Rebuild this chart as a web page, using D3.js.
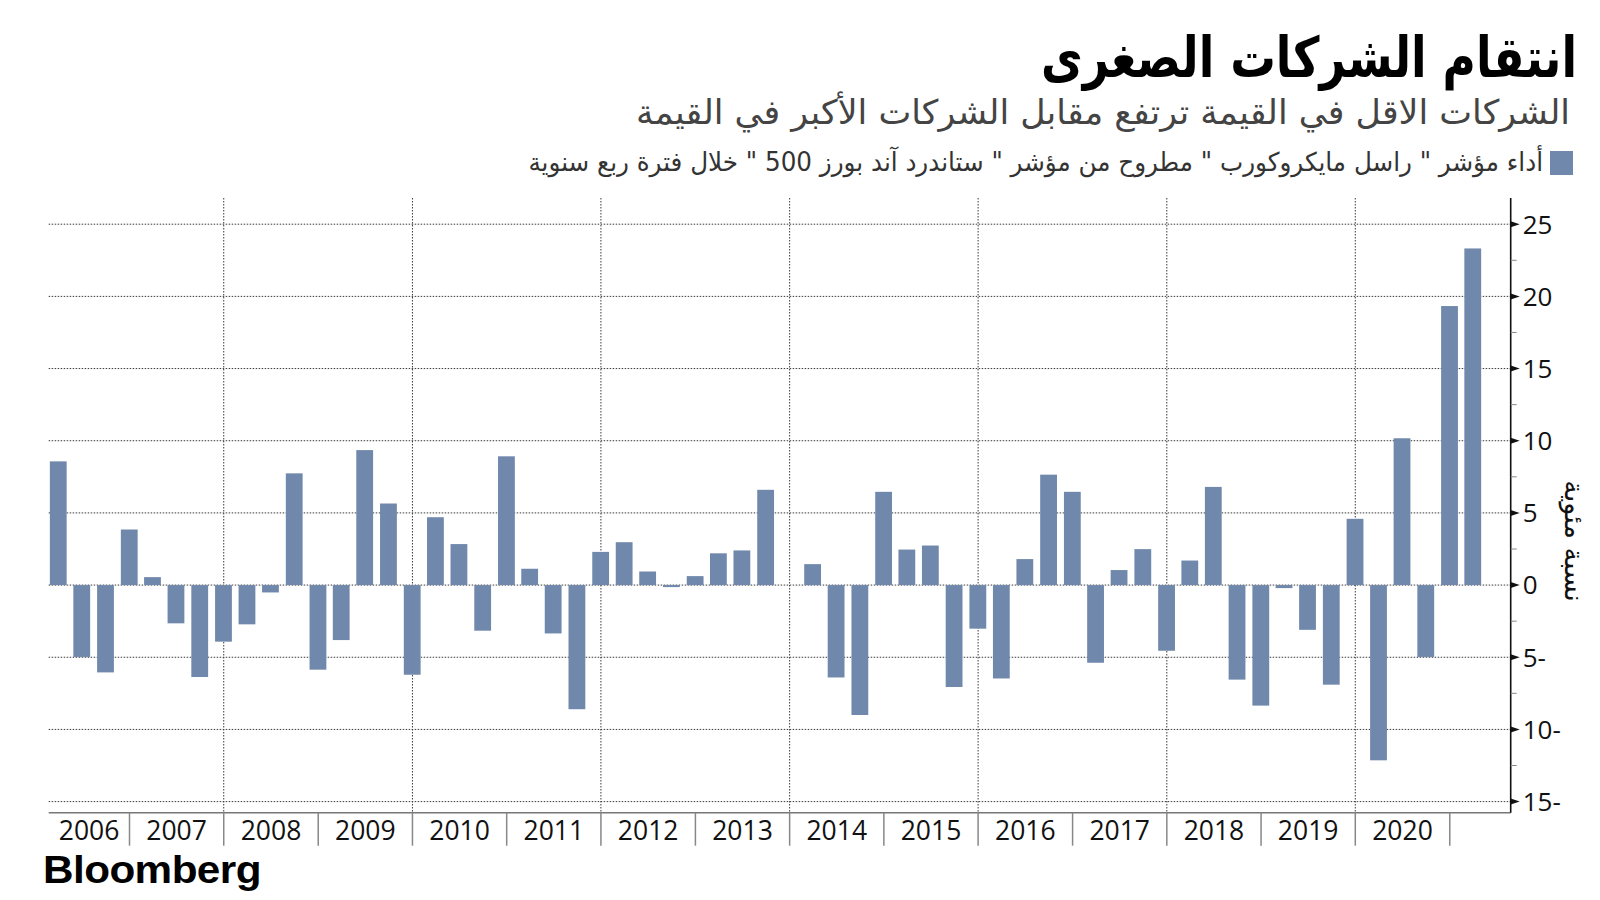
<!DOCTYPE html>
<html>
<head>
<meta charset="utf-8">
<script src="https://cdn.jsdelivr.net/npm/d3@7"></script>
<style>
  html, body { margin: 0; padding: 0; background: #ffffff; }
  svg { display: block; }
</style>
</head>
<body>
<svg id="chart" width="1600" height="900"></svg>
<script>
// ---------------- DATA ----------------
const years = [2006, 2007, 2008, 2009, 2010, 2011, 2012, 2013, 2014, 2015, 2016, 2017, 2018, 2019, 2020, 2021];
const quarterEnds = ["03-31", "06-30", "09-30", "12-31"];
// Russell Microcap minus S&P 500, quarterly performance (percentage points)
const values2006 = [8.57, -4.98, -6.05, 3.85];
const values2007 = [0.55, -2.65, -6.37, -3.92];
const values2008 = [-2.72, -0.51, 7.74, -5.86];
const values2009 = [-3.81, 9.35, 5.65, -6.21];
const values2010 = [4.70, 2.84, -3.16, 8.92];
const values2011 = [1.13, -3.35, -8.60, 2.30];
const values2012 = [2.97, 0.94, -0.14, 0.62];
const values2013 = [2.20, 2.40, 6.60, 0.00];
const values2014 = [1.45, -6.40, -9.00, 6.46];
const values2015 = [2.46, 2.74, -7.06, -3.02];
const values2016 = [-6.47, 1.80, 7.65, 6.46];
const values2017 = [-5.38, 1.04, 2.49, -4.55];
const values2018 = [1.70, 6.80, -6.55, -8.35];
const values2019 = [-0.21, -3.10, -6.90, 4.59];
const values2020 = [-12.14, 10.17, -4.98, 19.33];
const values2021 = [23.32];
const seriesByYear = [values2006, values2007, values2008, values2009, values2010, values2011, values2012,
  values2013, values2014, values2015, values2016, values2017, values2018, values2019, values2020, values2021];

const yTicks = [25, 20, 15, 10, 5, 0, -5, -10, -15];
const yMinorTicks = [22.5, 17.5, 12.5, 7.5, 2.5, -2.5, -7.5, -12.5];
const yearLabels = ["2006", "2007", "2008", "2009", "2010", "2011", "2012", "2013", "2014", "2015", "2016", "2017", "2018", "2019", "2020"];
const gridYears = [2008, 2010, 2012, 2014, 2016, 2018, 2020];
const separatorYears = [2007, 2008, 2009, 2010, 2011, 2012, 2013, 2014, 2015, 2016, 2017, 2018, 2019, 2020, 2021];

const titleText = "انتقام الشركات الصغرى";
const subtitleText = "الشركات الاقل في القيمة ترتفع مقابل الشركات الأكبر في القيمة";
const legendText = "أداء مؤشر \" راسل مايكروكورب \" مطروح من مؤشر \" ستاندرد آند بورز 500 \" خلال فترة ربع سنوية";
const yAxisTitle = "نسبة مئوية";
const sourceText = "Bloomberg";

// build records
const parseDate = d3.timeParse("%Y-%m-%d");
const data = [];
seriesByYear.forEach((vals, i) => {
  vals.forEach((v, q) => data.push({ date: parseDate(years[i] + "-" + quarterEnds[q]), value: v }));
});

// ---------------- LAYOUT ----------------
const svg = d3.select("#chart");
const plotLeft = 48.7, plotRight = 1510.7, plotTop = 198, plotBottom = 812.7;
const barColor = "#6f88ab";
const gridColor = "#3a3a3a";
const arabicFont = "'DejaVu Sans', 'Noto Sans', sans-serif";
const latinFont = "'Open Sans', 'Noto Sans', sans-serif";

const x = d3.scaleTime()
  .domain([new Date(2006, 1, 22), new Date(2021, 7, 25)])
  .range([plotLeft, plotRight]);
const y = d3.scaleLinear().domain([-15, 25]).range([801.6, 224.2]);
const barW = 16.8;

const jan1 = yr => new Date(yr, 0, 1);

// horizontal dotted gridlines
svg.append("g").selectAll("line").data(yTicks).join("line")
  .attr("x1", plotLeft).attr("x2", plotRight)
  .attr("y1", d => y(d)).attr("y2", d => y(d))
  .attr("stroke", gridColor).attr("stroke-width", 1).attr("stroke-dasharray", "1.5,1.5");

// vertical dotted gridlines
svg.append("g").selectAll("line").data(gridYears).join("line")
  .attr("x1", d => x(jan1(d))).attr("x2", d => x(jan1(d)))
  .attr("y1", plotTop).attr("y2", plotBottom)
  .attr("stroke", gridColor).attr("stroke-width", 1).attr("stroke-dasharray", "1.5,1.5");

// bars
svg.append("g").selectAll("rect").data(data).join("rect")
  .attr("x", d => x(d.date) - barW / 2)
  .attr("width", barW)
  .attr("y", d => y(Math.max(0, d.value)))
  .attr("height", d => Math.abs(y(d.value) - y(0)))
  .attr("fill", barColor);

// bottom axis line
svg.append("line")
  .attr("x1", plotLeft).attr("x2", plotRight)
  .attr("y1", plotBottom).attr("y2", plotBottom)
  .attr("stroke", "#777").attr("stroke-width", 1.5);

// year separators
svg.append("g").selectAll("line").data(separatorYears).join("line")
  .attr("x1", d => x(jan1(d))).attr("x2", d => x(jan1(d)))
  .attr("y1", plotBottom).attr("y2", 845.7)
  .attr("stroke", "#888").attr("stroke-width", 1.5);

// year labels
svg.append("g").selectAll("text").data(yearLabels).join("text")
  .attr("x", d => {
    const yr = +d;
    const a = Math.max(x(jan1(yr)), plotLeft);
    const b = Math.min(x(jan1(yr + 1)), plotRight);
    return (a + b) / 2;
  })
  .attr("y", 839.5)
  .attr("text-anchor", "middle")
  .attr("font-family", latinFont)
  .attr("font-size", 26.5)
  .attr("fill", "#111")
  .text(d => d);

// right axis
svg.append("line")
  .attr("x1", plotRight).attr("x2", plotRight)
  .attr("y1", plotTop).attr("y2", plotBottom)
  .attr("stroke", "#111").attr("stroke-width", 1.6);

svg.append("g").selectAll("line").data(yMinorTicks).join("line")
  .attr("x1", plotRight).attr("x2", plotRight + 6)
  .attr("y1", d => y(d)).attr("y2", d => y(d))
  .attr("stroke", "#888").attr("stroke-width", 1);

svg.append("g").selectAll("path").data(yTicks).join("path")
  .attr("d", d => `M${plotRight},${y(d) - 3} L${plotRight + 9},${y(d)} L${plotRight},${y(d) + 3} Z`)
  .attr("fill", "#111");

svg.append("g").selectAll("text").data(yTicks).join("text")
  .attr("x", plotRight + 12)
  .attr("y", d => y(d))
  .attr("dy", "0.36em")
  .attr("font-family", latinFont)
  .attr("font-size", 26)
  .attr("fill", "#111")
  .text(d => d < 0 ? Math.abs(d) + "-" : String(d));

// y axis title (rotated)
svg.append("text")
  .attr("transform", "translate(1565,541) rotate(90)")
  .attr("text-anchor", "middle")
  .attr("font-family", arabicFont)
  .attr("font-size", 27)
  .attr("fill", "#111")
  .attr("direction", "rtl")
  .text(yAxisTitle);

// helper: fit text horizontally between x0 and x1 (ink), anchored right
function fitRight(sel, x0, x1, baseline) {
  const b = sel.node().getBBox();
  const sx = (x1 - x0) / b.width;
  sel.attr("transform", `translate(${x1},${baseline}) scale(${sx},1) translate(${-(b.x + b.width)},0)`);
}

// title
const title = svg.append("text")
  .attr("x", 0).attr("y", 0)
  .attr("font-family", arabicFont)
  .attr("font-weight", "bold")
  .attr("font-size", 56)
  .attr("fill", "#000")
  .attr("direction", "rtl")
  .text(titleText);
fitRight(title, 1041, 1577, 77);

// subtitle
const sub = svg.append("text")
  .attr("x", 0).attr("y", 0)
  .attr("font-family", arabicFont)
  .attr("font-size", 34)
  .attr("fill", "#444")
  .attr("direction", "rtl")
  .text(subtitleText);
fitRight(sub, 636, 1570, 124);

// legend
svg.append("rect")
  .attr("x", 1550).attr("y", 151).attr("width", 23).attr("height", 24)
  .attr("fill", barColor);
const leg = svg.append("text")
  .attr("x", 0).attr("y", 0)
  .attr("font-family", arabicFont)
  .attr("font-size", 26)
  .attr("fill", "#333")
  .attr("direction", "rtl")
  .text(legendText);
fitRight(leg, 528, 1543, 171);

// source logo
const src = svg.append("text")
  .attr("x", 0).attr("y", 0)
  .attr("font-family", "'Liberation Sans', Arial, sans-serif")
  .attr("font-weight", "bold")
  .attr("font-size", 38)
  .attr("letter-spacing", -0.5)
  .attr("fill", "#000")
  .text(sourceText);
(function () {
  const b = src.node().getBBox();
  const sx = (261 - 43) / b.width;
  src.attr("transform", `translate(43,883) scale(${sx},1) translate(${-b.x},0)`);
})();
</script>
</body>
</html>
